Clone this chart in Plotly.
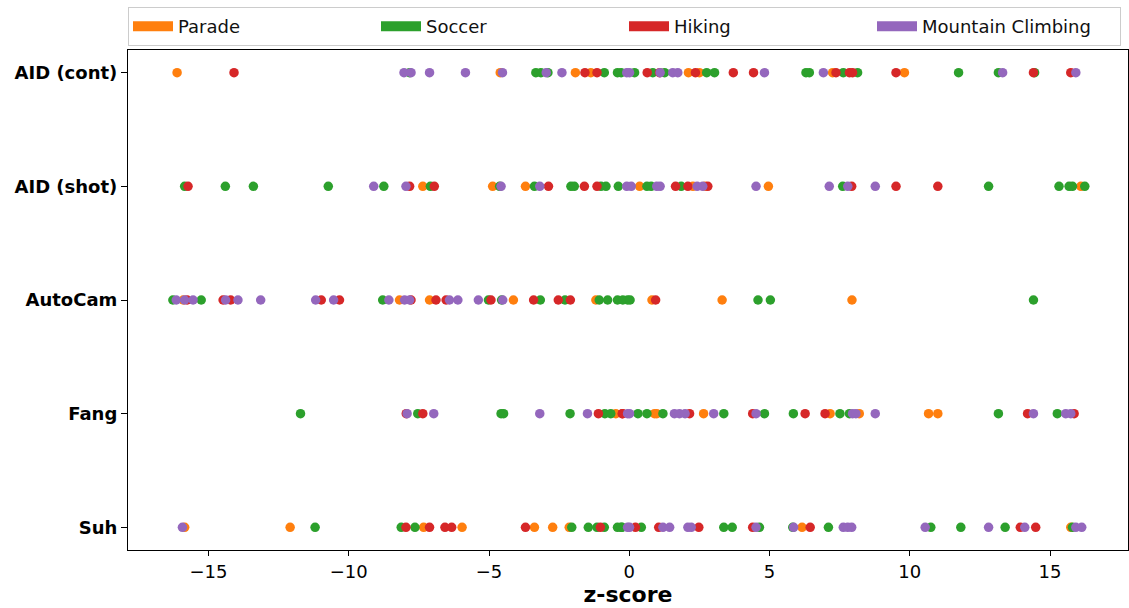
import plotly.graph_objects as go

methods = ["AID (cont)", "AID (shot)", "AutoCam", "Fang", "Suh"]
series_names = ["Parade", "Soccer", "Hiking", "Mountain Climbing"]
colors = ["#ff7f0e", "#2ca02c", "#d62728", "#9467bd"]

# z-scores per method, per series
aid_cont_parade = [-16.12, -4.6, -1.92, -1.37, 2.11, 2.50, 7.25, 9.81]
aid_cont_soccer = [-7.83, -3.33, -3.15, -2.9, -0.89, -0.42, -0.29, 0.19, 0.84, 1.26, 2.76, 3.04,
                   6.30, 6.42, 7.63, 8.14, 11.74, 13.16, 14.45]
aid_cont_hiking = [-14.09, -1.58, -1.15, 0.64, 1.08, 2.36, 3.71, 4.43, 7.37, 7.85, 7.96, 9.51,
                   14.41, 15.74]
aid_cont_climb = [-8.03, -7.78, -7.12, -5.84, -4.52, -2.96, -2.40, -0.09, 0.01, 1.10, 1.55, 1.73,
                  4.82, 6.92, 13.31, 15.92]

aid_shot_parade = [-7.36, -4.87, -3.70, 0.37, 2.27, 2.70, 4.96, 16.10]
aid_shot_soccer = [-15.85, -14.40, -13.40, -10.73, -8.75, -7.09, -4.62, -3.38, -2.08, -1.96, -1.01,
                   -0.83, -0.39, 0.63, 0.78, 1.85, 7.61, 12.81, 15.32, 15.68, 15.80, 16.24]
aid_shot_hiking = [-15.73, -7.83, -6.95, -2.88, -1.60, -1.15, 1.65, 2.09, 2.80, 7.93, 9.51, 11.00]
aid_shot_climb = [-9.11, -7.96, -4.57, -3.19, -0.09, 0.07, 0.98, 1.10, 2.42, 2.62, 4.52, 7.13,
                  7.79, 8.77]

autocam_parade = [-15.9, -8.19, -7.12, -4.13, -1.19, 0.81, 3.31, 7.94]
autocam_soccer = [-16.27, -15.26, -8.79, -5.02, -4.55, -3.17, -2.29, -1.07, -0.77, -0.42, -0.06,
                  -0.23, 0.03, 4.59, 5.03, 14.41]
autocam_hiking = [-15.76, -14.48, -14.21, -10.98, -10.33, -7.78, -6.89, -6.53, -4.93, -3.41,
                  -2.53, -2.10, 0.94]
autocam_climb = [-16.15, -15.85, -15.55, -14.39, -13.95, -13.14, -11.18, -10.54, -8.57, -8.01,
                 -7.83, -6.41, -6.11, -5.38, -4.51]

fang_parade = [-0.48, 0.90, 0.98, 2.65, 7.16, 8.20, 10.67, 11.00]
fang_soccer = [-11.72, -7.54, -4.57, -4.48, -2.11, -0.87, -0.66, 0.31, 0.63, 1.20, 3.37, 4.82,
               5.85, 7.51, 7.85, 13.16, 15.26]
fang_hiking = [-7.95, -7.36, -1.10, -0.24, -0.25, 2.15, 4.40, 6.27, 6.98, 14.20, 15.86]
fang_climb = [-7.92, -6.97, -3.19, -1.49, -0.06, 0.01, 1.61, 1.79, 1.99, 3.01, 4.52, 7.96, 8.08,
              8.77, 14.41, 15.56, 15.74]

suh_parade = [-15.85, -12.09, -7.33, -5.96, -3.38, -2.73, -2.14, 6.16, 15.74]
suh_soccer = [-11.20, -8.13, -7.64, -2.05, -1.46, -1.15, -0.89, -0.42, -0.26, -0.29, 0.43, 3.37,
              3.67, 4.64, 5.83, 7.10, 10.75, 11.82, 13.40, 15.80]
suh_hiking = [-7.96, -7.12, -6.57, -6.33, -3.70, -1.03, 0.22, 1.05, 2.48, 4.40, 6.45, 13.94, 14.49]
suh_climb = [-15.93, -0.06, 0.01, 1.20, 1.44, 2.09, 2.21, 4.52, 5.86, 7.63, 7.79, 7.93, 10.55,
             12.81, 14.10, 15.92, 16.13]

x_ticks = [-15, -10, -5, 0, 5, 10, 15]
x_tick_labels = ["\u221215", "\u221210", "\u22125", "0", "5", "10", "15"]

data = {
    "AID (cont)": [aid_cont_parade, aid_cont_soccer, aid_cont_hiking, aid_cont_climb],
    "AID (shot)": [aid_shot_parade, aid_shot_soccer, aid_shot_hiking, aid_shot_climb],
    "AutoCam": [autocam_parade, autocam_soccer, autocam_hiking, autocam_climb],
    "Fang": [fang_parade, fang_soccer, fang_hiking, fang_climb],
    "Suh": [suh_parade, suh_soccer, suh_hiking, suh_climb],
}

fig = go.Figure()

for si, (name, col) in enumerate(zip(series_names, colors)):
    xs, ys = [], []
    for mi, m in enumerate(methods):
        vals = data[m][si]
        xs.extend(vals)
        ys.extend([mi] * len(vals))
    fig.add_trace(go.Scatter(
        x=xs, y=ys, mode="markers", name=name, legendgroup=name, showlegend=False,
        marker=dict(color=col, size=9.5, line=dict(width=0)),
    ))
    # legend entry drawn as a thick line to mimic a rectangular patch
    fig.add_trace(go.Scatter(
        x=[None], y=[None], mode="lines", name=name, legendgroup=name, showlegend=True,
        line=dict(color=col, width=14),
    ))

fig.update_layout(
    width=1129, height=608,
    paper_bgcolor="white", plot_bgcolor="white",
    margin=dict(l=128, r=1, t=50, b=58),
    font=dict(family="DejaVu Sans", color="black"),
    showlegend=True,
    legend=dict(
        orientation="h", x=0, y=1.008, xanchor="left", yanchor="bottom",
        bordercolor="#cccccc", borderwidth=1, bgcolor="white",
        font=dict(size=18, family="DejaVu Sans", color="#111111"),
        entrywidth=193, entrywidthmode="pixels",
        itemwidth=40, tracegroupgap=0,
    ),
    xaxis=dict(
        range=[-17.87, 17.78], tickvals=x_ticks, ticktext=x_tick_labels,
        showgrid=False, zeroline=False, showline=True, linecolor="black", linewidth=1.2,
        mirror=True, ticks="outside", ticklen=5, tickwidth=1.2, tickcolor="black",
        tickfont=dict(size=18, family="DejaVu Sans"), automargin=False,
        title=dict(text="<b>z-score</b>", font=dict(size=22, family="DejaVu Sans"), standoff=0),
    ),
    yaxis=dict(
        range=[4.2, -0.2], tickvals=list(range(len(methods))),
        ticktext=["<b>%s</b>" % m for m in methods],
        showgrid=False, zeroline=False, showline=True, linecolor="black", linewidth=1.2,
        mirror=True, ticks="outside", ticklen=6, tickwidth=1.2, tickcolor="black",
        tickfont=dict(size=18, family="DejaVu Sans"), automargin=False,
    ),
)

fig.write_html("out.html", config={"displayModeBar": False},
               post_script="document.body.style.margin='0';")
